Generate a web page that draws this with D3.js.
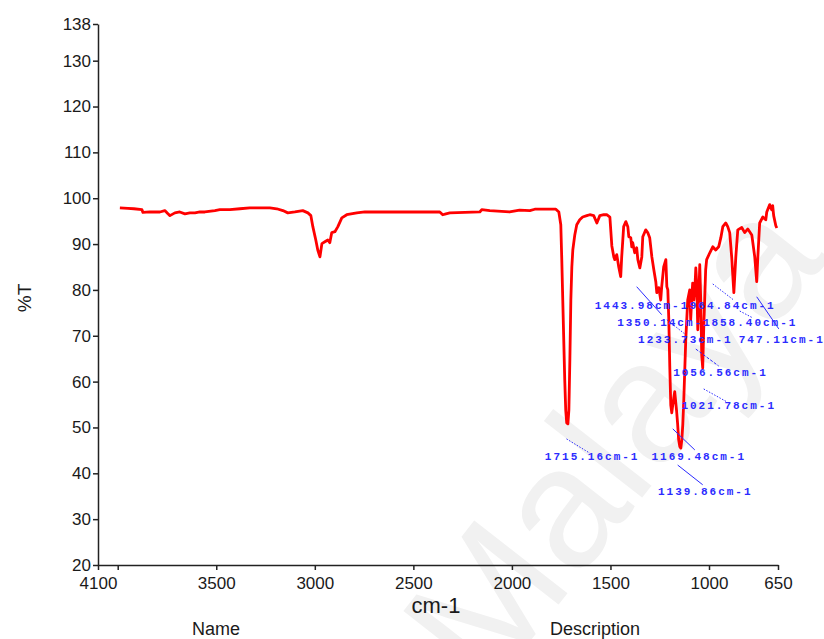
<!DOCTYPE html>
<html>
<head>
<meta charset="utf-8">
<script src="https://cdn.jsdelivr.net/npm/d3@7"></script>
<style>
body { margin:0; background:#fff; }
svg { display:block; font-family:"Liberation Sans", Arial, sans-serif; }
.axis path, .axis line { stroke:#222; stroke-width:1.5; }
.axis text { font-size:17px; fill:#1a1a1a; font-family:"Liberation Sans", Arial, sans-serif; }
.peak { font-family:"Liberation Mono", "DejaVu Sans Mono", monospace; font-size:11px; font-weight:bold; letter-spacing:2px; fill:#2b2bff; }
</style>
</head>
<body>
<div id="chart"></div>
<script>
// FTIR spectrum, wavenumber (cm-1) vs %T
var wavenumber = [3989,3948,3918,3877,3872,3837,3786,3761,3745,3735,3710,3685,3659,3634,3608,3583,3558,3507,3482,3431,
  3380,3330,3279,3228,3193,3162,3137,3101,3061,3035,3020,3010,2995,2985,2974,2964,2949,2934,2924,2914,
  2898,2883,2863,2838,2787,2746,2569,2366,2351,2335,2315,2163,2153,2112,2012,1961,1909,1884,1777,
  1762,1752,1747,1742,1737,1732,1727,1722,1716,1711,1706,1701,1696,1691,1681,1671,1656,1641,1620,1605,
  1585,1569,1554,1534,1519,1503,1493,1483,1478,1468,1458,1448,1443,1433,1422,1412,1407,1397,1392,1387,
  1377,1367,1361,1351,1341,1336,1321,1311,1301,1290,1280,1270,1265,1255,1245,1240,1230,1219,1214,1209,
  1204,1199,1194,1189,1184,1179,1174,1169,1164,1159,1154,1148,1143,1138,1133,1128,1118,1108,1098,1093,
  1088,1083,1077,1072,1067,1062,1057,1052,1047,1042,1037,1032,1027,1022,1017,1012,996,981,966,951,
  940,930,915,905,895,885,874,864,854,834,819,803,783,768,758,753,743,727,712,707,
  692,682,677,672,661,656];
var transmittance = [97.9,97.8,97.7,97.5,96.9,97.0,97.0,97.3,96.6,96.2,96.8,97.0,96.6,96.8,96.8,97.0,97.0,97.3,97.5,97.5,
  97.7,97.9,97.9,97.9,97.7,97.3,96.8,97.0,97.3,96.8,96.2,93.8,90.9,88.7,87.2,90.1,90.5,90.9,90.3,92.5,
  92.7,93.8,95.7,96.4,96.8,97.0,97.0,97.0,96.4,96.6,96.8,97.0,97.5,97.3,97.0,97.4,97.3,97.6,97.6,
  97.0,94.2,86.6,77.8,69.1,60.4,53.8,51.0,50.8,53.8,64.7,77.8,85.0,88.7,92.0,94.2,95.3,95.9,96.2,96.4,
  96.2,94.6,96.2,96.4,96.4,95.9,89.6,87.2,86.6,87.7,85.0,82.9,87.2,93.8,94.9,93.8,91.6,91.4,89.4,90.3,
  88.1,89.2,86.6,84.8,87.2,91.6,93.1,92.5,91.4,87.2,84.4,81.8,79.4,80.5,77.8,80.7,85.0,86.6,80.7,80.0,
  73.5,63.2,54.9,53.2,54.9,56.4,57.8,55.6,53.4,50.6,47.3,45.8,45.5,47.3,50.6,56.0,69.1,77.8,80.0,73.5,
  77.8,81.5,77.8,80.0,84.8,81.1,71.3,77.8,85.5,77.8,65.8,63.0,71.3,77.8,84.4,86.6,88.1,89.4,88.7,89.4,
  91.4,93.8,94.6,93.8,92.5,87.2,79.4,87.2,93.1,93.6,92.5,93.3,92.0,87.2,81.8,86.6,94.6,95.9,95.3,97.0,
  98.6,97.5,98.4,96.2,94.0,93.5];

var xTicks = [4100,4000,3500,3000,2500,2000,1500,1000,650];
var yTicks = [20,30,40,50,60,70,80,90,100,110,120,130,138];

// peak labels: text and where the label sits (wavenumber, %T)
var peakNames = ["1443.98cm-1","964.84cm-1","1350.14cm-1","858.40cm-1","1233.73cm-1","747.11cm-1",
  "1056.56cm-1","1021.78cm-1","1715.16cm-1","1169.48cm-1","1139.86cm-1"];
var peakLabelWn = [1580,1098,1466,988,1360,849,1182,1140,1833,1292,1259];
var peakLabelT = [75.8,75.8,72.2,72.2,68.5,68.5,61.2,54.0,42.8,42.8,35.3];

// leader lines from label toward peak
var leaderWn1 = [1723,1184,1159,1067,1027,1367,1214,981,844,758];
var leaderT1 = [47.5,49.7,41.8,67.1,58.4,80.7,73.5,81.3,75.4,78.5];
var leaderWn2 = [1605,1072,1032,951,910,1240,1123,875,778,646];
var leaderT2 = [44.4,45.1,37.5,63.4,55.6,74.6,70.4,77.8,73.9,71.5];
var leaderDash = ["1.5,1.5","","","3,1.5","1.5,1.5","","1.5,1.5","1.5,1.5","1.5,1.5",""];

var w = 824, h = 639;
var margins = {top:24, bottom:74, left:98, right:46};

var svg = d3.select("#chart").append("svg")
  .attr("width", w)
  .attr("height", h);

svg.append("rect").attr("width", w).attr("height", h).attr("fill", "#fff");

// faint watermark
svg.append("text")
  .text("Malaya")
  .attr("transform", "translate(488,695) rotate(-52)")
  .attr("font-size", 172)
  .attr("fill", "#f1f1f1");

var xScale = d3.scaleLinear()
  .domain([4100, 650])
  .range([margins.left, w - margins.right]);
var yScale = d3.scaleLinear()
  .domain([20, 138])
  .range([h - margins.bottom, margins.top]);

var xAxis = d3.axisBottom(xScale)
  .tickValues(xTicks)
  .tickFormat(function(d){ return d == 4000 ? "" : d; })
  .tickSizeInner(5).tickSizeOuter(0).tickPadding(7);
var yAxis = d3.axisLeft(yScale)
  .tickValues(yTicks)
  .tickFormat(d3.format("d"))
  .tickSizeInner(5).tickSizeOuter(0).tickPadding(2);

svg.append("g")
  .attr("class", "axis")
  .attr("transform", "translate(0," + (h - margins.bottom) + ")")
  .call(xAxis);
svg.append("g")
  .attr("class", "axis")
  .attr("transform", "translate(" + margins.left + ",0)")
  .call(yAxis);

var spectrum = wavenumber.map(function(d, i){ return {wn:d, t:transmittance[i]}; });

var line = d3.line()
  .x(function(d){ return xScale(d.wn); })
  .y(function(d){ return yScale(d.t); });

svg.append("path")
  .datum(spectrum)
  .attr("d", line)
  .attr("fill", "none")
  .attr("stroke", "#ff0000")
  .attr("stroke-width", 2.8)
  .attr("stroke-linejoin", "round");

// leaders
svg.append("g").selectAll("line")
  .data(leaderWn1)
  .enter()
  .append("line")
  .attr("x1", function(d){ return xScale(d); })
  .attr("y1", function(d, i){ return yScale(leaderT1[i]); })
  .attr("x2", function(d, i){ return xScale(leaderWn2[i]); })
  .attr("y2", function(d, i){ return yScale(leaderT2[i]); })
  .attr("stroke", "#2b2bff")
  .attr("stroke-width", 1)
  .attr("stroke-dasharray", function(d, i){ return leaderDash[i] || null; });

svg.append("g").selectAll("text")
  .data(peakNames)
  .enter()
  .append("text")
  .attr("class", "peak")
  .attr("x", function(d, i){ return xScale(peakLabelWn[i]); })
  .attr("y", function(d, i){ return yScale(peakLabelT[i]); })
  .text(function(d){ return d; });

// axis titles
svg.append("text")
  .text("cm-1")
  .attr("x", 436).attr("y", 613)
  .attr("text-anchor", "middle")
  .attr("font-size", 22)
  .attr("fill", "#1a1a1a");
svg.append("text")
  .text("%T")
  .attr("transform", "translate(31,298) rotate(-90)")
  .attr("text-anchor", "middle")
  .attr("font-size", 19)
  .attr("fill", "#1a1a1a");
svg.append("text")
  .text("Name")
  .attr("x", 216).attr("y", 635)
  .attr("text-anchor", "middle")
  .attr("font-size", 18)
  .attr("fill", "#1a1a1a");
svg.append("text")
  .text("Description")
  .attr("x", 595).attr("y", 635)
  .attr("text-anchor", "middle")
  .attr("font-size", 18)
  .attr("fill", "#1a1a1a");
</script>
</body>
</html>
